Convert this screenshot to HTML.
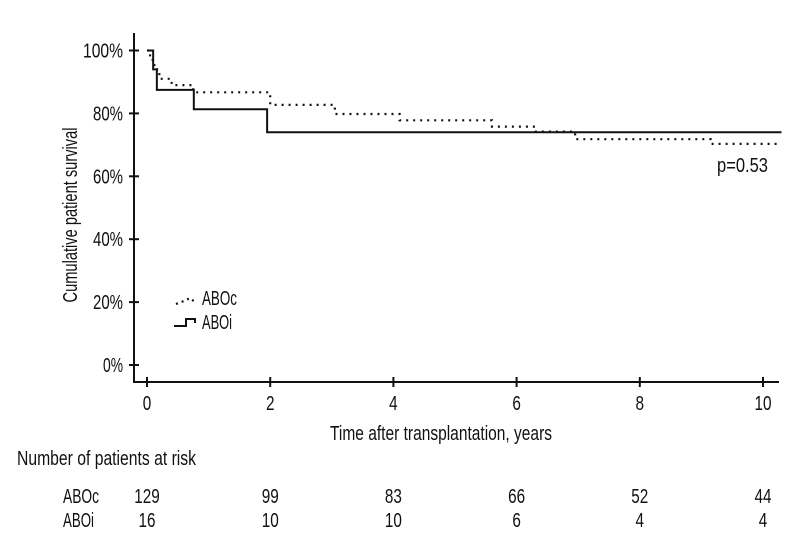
<!DOCTYPE html>
<html><head><meta charset="utf-8"><style>
body{margin:0;background:#fff}
svg{display:block}
text{font-family:"Liberation Sans Narrow","Liberation Sans",sans-serif;fill:#111;font-size:20px}
</style></head><body>
<svg id="chart" width="800" height="560" viewBox="0 0 800 560" xmlns="http://www.w3.org/2000/svg">
<g id="axes"></g>
<g id="series"></g>
<g id="legend">
  <polyline points="176,304 184,301 190,298 196,303" fill="none" stroke="#111" stroke-width="2.2" stroke-dasharray="2 4"/>
  <text x="202" y="305" textLength="35" lengthAdjust="spacingAndGlyphs">ABOc</text>
  <polyline points="174,326 186,326 186,319 195,319 195,323" fill="none" stroke="#111" stroke-width="2"/>
  <text x="202" y="329" textLength="30" lengthAdjust="spacingAndGlyphs">ABOi</text>
</g>
<text x="717" y="172" textLength="51" lengthAdjust="spacingAndGlyphs">p=0.53</text>
<text transform="translate(77,215) rotate(-90)" text-anchor="middle" textLength="175" lengthAdjust="spacingAndGlyphs">Cumulative patient survival</text>
<text x="330" y="440" textLength="222" lengthAdjust="spacingAndGlyphs">Time after transplantation, years</text>
<text x="17" y="465" textLength="179" lengthAdjust="spacingAndGlyphs">Number of patients at risk</text>
<g id="risk"></g>
</svg>
<script>
const xTicks=[0,2,4,6,8,10];
const yTicks=[0,20,40,60,80,100];
const abocT=[0,0.05,0.12,0.2,0.4,0.75,1.85,2.0,3.05,4.1,5.2,5.6,6.3,6.95,9.15,10.3];
const abocS=[100,97,94,91,89,86.7,86.7,82.7,79.8,77.8,77.8,75.8,74.2,71.8,70.3,70.3];
const aboiT=[0,0.1,0.16,0.76,1.95,10.3];
const aboiS=[100,94,87.5,81.3,74,74];
const riskGroups=["ABOc","ABOi"];
const riskAboc=[129,99,83,66,52,44];
const riskAboi=[16,10,10,6,4,4];
const NS="http://www.w3.org/2000/svg";
const x=t=>147+t*61.6;
const y=v=>365-v*3.145;
function mk(tag,attrs,parent){const e=document.createElementNS(NS,tag);for(const k in attrs)e.setAttribute(k,attrs[k]);parent.appendChild(e);return e;}
const axes=document.getElementById('axes');
let e=mk('path',{d:`M134,33 V382 H779`,fill:'none',stroke:'#111','stroke-width':2},axes);


yTicks.forEach(v=>{
  let l=mk('line',{x1:129,x2:139,y1:y(v),y2:y(v),stroke:'#111','stroke-width':2},axes);
  
  
  const s=v+'%';
  let t=mk('text',{x:123,y:y(v)+7,'text-anchor':'end',textLength:s.length*10,lengthAdjust:'spacingAndGlyphs'},axes);t.textContent=s;
  
  
});
xTicks.forEach(v=>{
  let l=mk('line',{x1:x(v),x2:x(v),y1:377,y2:387,stroke:'#111','stroke-width':2},axes);
  
  
  const s=String(v);
  let t=mk('text',{x:x(v),y:410,'text-anchor':'middle',textLength:s.length*8.5,lengthAdjust:'spacingAndGlyphs'},axes);t.textContent=s;
  
  
});
function stepPath(T,S){let d=`M${x(T[0])},${y(S[0])}`;for(let i=1;i<T.length;i++){d+=` H${x(T[i])} V${y(S[i])}`;}return d;}
const ser=document.getElementById('series');
let p1=mk('path',{d:stepPath(abocT,abocS),fill:'none',stroke:'#111','stroke-width':2.2,'stroke-dasharray':'2 5'},ser);


let p2=mk('path',{d:stepPath(aboiT,aboiS),fill:'none',stroke:'#111','stroke-width':2},ser);


const risk=document.getElementById('risk');
[riskAboc,riskAboi].forEach((row,ri)=>{
  const yy=503+ri*24;
  let lab=mk('text',{x:63,y:yy,textLength:ri?31:36,lengthAdjust:'spacingAndGlyphs'},risk);lab.textContent=riskGroups[ri];
  
  
  row.forEach((n,i)=>{const s=String(n);let t=mk('text',{x:x(xTicks[i]),y:yy,'text-anchor':'middle',textLength:s.length*8.5,lengthAdjust:'spacingAndGlyphs'},risk);t.textContent=s;
    
    });
});
</script>
</body></html>
